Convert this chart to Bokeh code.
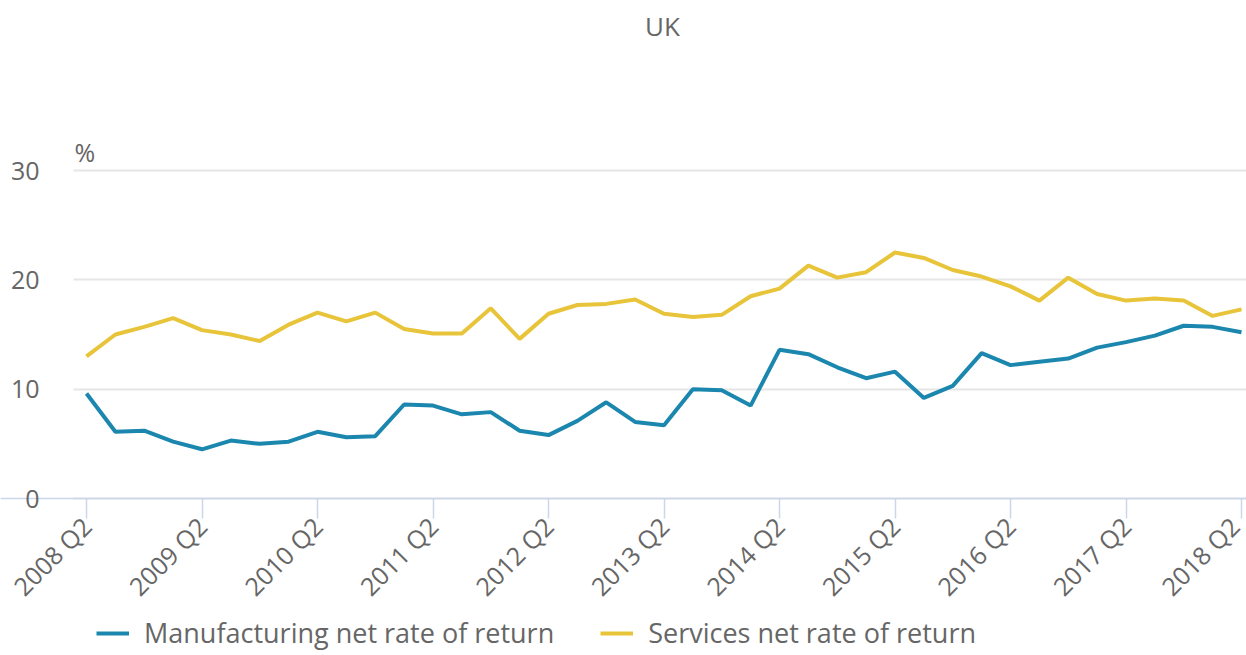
from bokeh.plotting import figure
from bokeh.models import (ColumnDataSource, FixedTicker, Range1d, Label, Legend, LegendItem,
                          BoxAnnotation)
from bokeh.embed import file_html
from bokeh.resources import INLINE
from math import pi

quarters = [
    "2008 Q2", "2008 Q3", "2008 Q4", "2009 Q1", "2009 Q2", "2009 Q3", "2009 Q4", "2010 Q1",
    "2010 Q2", "2010 Q3", "2010 Q4", "2011 Q1", "2011 Q2", "2011 Q3", "2011 Q4", "2012 Q1",
    "2012 Q2", "2012 Q3", "2012 Q4", "2013 Q1", "2013 Q2", "2013 Q3", "2013 Q4", "2014 Q1",
    "2014 Q2", "2014 Q3", "2014 Q4", "2015 Q1", "2015 Q2", "2015 Q3", "2015 Q4", "2016 Q1",
    "2016 Q2", "2016 Q3", "2016 Q4", "2017 Q1", "2017 Q2", "2017 Q3", "2017 Q4", "2018 Q1",
    "2018 Q2",
]
manufacturing = [
    9.6, 6.1, 6.2, 5.2, 4.5, 5.3, 5.0, 5.2, 6.1, 5.6, 5.7, 8.6, 8.5, 7.7, 7.9, 6.2,
    5.8, 7.1, 8.8, 7.0, 6.7, 10.0, 9.9, 8.5, 13.6, 13.2, 12.0, 11.0, 11.6, 9.2, 10.3,
    13.3, 12.2, 12.5, 12.8, 13.8, 14.3, 14.9, 15.8, 15.7, 15.2,
]
services = [
    13.0, 15.0, 15.7, 16.5, 15.4, 15.0, 14.4, 15.9, 17.0, 16.2, 17.0, 15.5, 15.1, 15.1,
    17.4, 14.6, 16.9, 17.7, 17.8, 18.2, 16.9, 16.6, 16.8, 18.5, 19.2, 21.3, 20.2, 20.7,
    22.5, 22.0, 20.9, 20.3, 19.4, 18.1, 20.2, 18.7, 18.1, 18.3, 18.1, 16.7, 17.3,
]
y_ticks = [0, 10, 20, 30]
series_names = ["Manufacturing net rate of return", "Services net rate of return"]
colors = ["#1b87ae", "#e8c43a"]
title_text = "UK"
unit_text = "%"

idx = list(range(len(quarters)))
src = ColumnDataSource(dict(x=idx, m=manufacturing, s=services))

TXT = "#666666"
FONT = "Open Sans"

# The frame spans the whole canvas; the axes are drawn at fixed locations inside it.
PX_PER_Y = 328 / 30           # y=0 at 498 px, y=30 at 170 px
PX_PER_X = 1155 / 40          # first quarter at 86 px, last at 1241 px
def py_to_y(py):
    return (498 - py) / PX_PER_Y
def px_to_x(px):
    return (px - 86) / PX_PER_X

X0, X1 = px_to_x(0), px_to_x(1246)
Y0, Y1 = py_to_y(655), py_to_y(0)
PLOT_LEFT = px_to_x(73)

p = figure(width=1246, height=655, output_backend="svg", toolbar_location=None,
           x_range=Range1d(X0, X1), y_range=Range1d(Y0, Y1),
           min_border_left=0, min_border_right=0, min_border_top=0, min_border_bottom=0)
p.outline_line_color = None
p.background_fill_color = "white"
p.border_fill_color = "white"

r1 = p.line("x", "m", source=src, line_color=colors[0], line_width=4)
r2 = p.line("x", "s", source=src, line_color=colors[1], line_width=4)

# x axis drawn at y = 0
xa = p.xaxis[0]
xa.fixed_location = 0
tick_pos = idx[::4]
xa.ticker = FixedTicker(ticks=tick_pos)
xa.major_label_overrides = {i: quarters[i] for i in tick_pos}
xa.major_label_orientation = pi / 4
xa.axis_line_color = "#ccd6eb"
xa.axis_line_width = 1.5
xa.major_tick_line_color = "#ccd6eb"
xa.major_tick_line_width = 1.5
xa.major_tick_out = 20
xa.major_tick_in = 0
xa.minor_tick_line_color = None
xa.major_label_text_font = FONT
xa.major_label_text_font_size = "25px"
xa.major_label_text_color = TXT
xa.major_label_standoff = 3

# y axis drawn at the plot-area left edge
ya = p.yaxis[0]
ya.fixed_location = PLOT_LEFT
ya.ticker = FixedTicker(ticks=y_ticks)
ya.axis_line_color = None
ya.major_tick_line_color = None
ya.minor_tick_line_color = None
ya.major_tick_out = 0
ya.major_tick_in = 0
ya.major_label_standoff = 34
ya.major_label_text_font = FONT
ya.major_label_text_font_size = "25px"
ya.major_label_text_color = TXT

p.xgrid.grid_line_color = None
p.ygrid.grid_line_color = "#e6e6e6"
p.ygrid.grid_line_width = 2

# keep grid lines out of the label gutter on the left
p.add_layout(BoxAnnotation(left=X0, right=PLOT_LEFT, fill_color="white", fill_alpha=1,
                           line_color=None, level="underlay"))

p.add_layout(Label(x=px_to_x(662), y=py_to_y(25),
                   text=title_text, text_align="center", text_baseline="middle",
                   text_font=FONT, text_font_size="26px", text_color=TXT))
p.add_layout(Label(x=PLOT_LEFT, x_offset=1, y=py_to_y(168), text=unit_text,
                   text_align="left", text_baseline="bottom",
                   text_font=FONT, text_font_size="25px", text_color=TXT))

legend = Legend(items=[LegendItem(label=series_names[0], renderers=[r1]),
                       LegendItem(label=series_names[1], renderers=[r2])],
                orientation="horizontal", location=(96, 4),
                label_text_font=FONT, label_text_font_size="27px", label_text_color=TXT,
                label_standoff=15, glyph_width=33, glyph_height=20, spacing=46,
                padding=6, margin=0,
                border_line_color=None, background_fill_alpha=0)
p.add_layout(legend, "center")

open("out.html", "w").write(file_html(p, INLINE))
